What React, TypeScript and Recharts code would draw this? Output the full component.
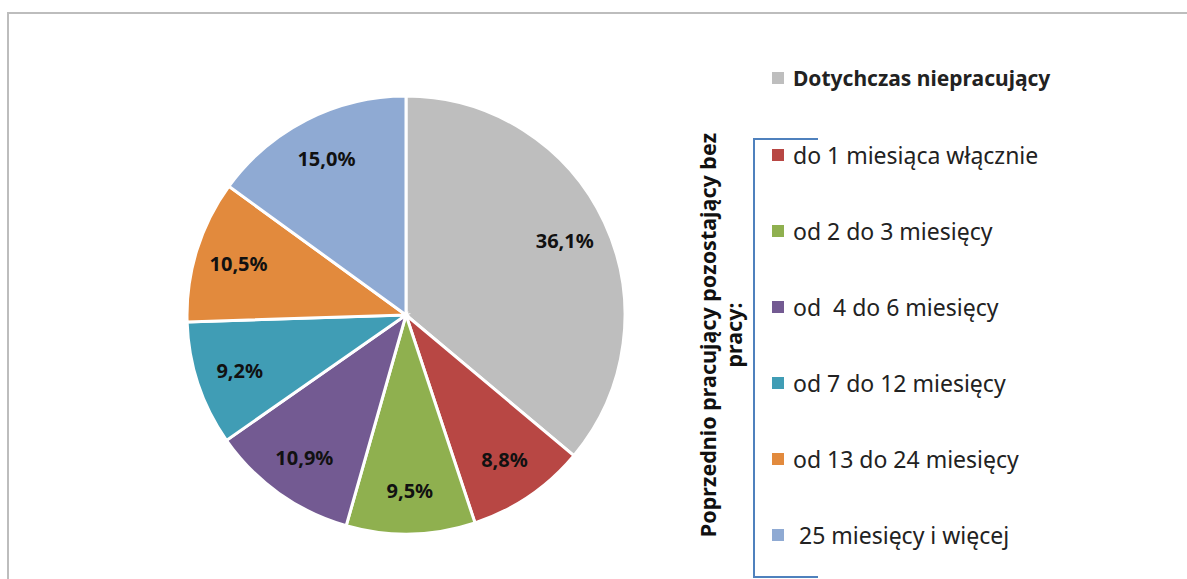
import React from 'react';
import { PieChart, Pie, Cell, Legend } from 'recharts';

const categories = [
  'Dotychczas niepracujący',
  'do 1 miesiąca włącznie',
  'od 2 do 3 miesięcy',
  'od  4 do 6 miesięcy',
  'od 7 do 12 miesięcy',
  'od 13 do 24 miesięcy',
  ' 25 miesięcy i więcej',
];
const shares = [36.1, 8.8, 9.5, 10.9, 9.2, 10.5, 15.0];
const colors = ['#BEBEBE', '#B84744', '#8FB04F', '#735A92', '#409DB5', '#E28A3D', '#8FAAD3'];

const groupTitle = ['Poprzednio pracujący pozostający bez', 'pracy:'];

const data = categories.map((name, i) => ({ name, value: shares[i] }));

const RAD = Math.PI / 180;
const FONT = '"Noto Sans", "Open Sans", sans-serif';

const renderLabel = (props: any) => {
  const { cx, cy, midAngle, outerRadius, value } = props;
  const r = outerRadius * 0.8;
  const x = cx + r * Math.cos(-midAngle * RAD);
  const y = cy + r * Math.sin(-midAngle * RAD);
  return (
    <text
      x={x}
      y={y}
      textAnchor="middle"
      dominantBaseline="central"
      fill="#111"
      fontFamily={FONT}
      fontWeight="bold"
      fontSize={20}
    >
      {value.toFixed(1).replace('.', ',') + '%'}
    </text>
  );
};

const renderLegend = (props: any) => {
  const payload = [...(props.payload || [])].sort(
    (a: any, b: any) => categories.indexOf(a.value) - categories.indexOf(b.value)
  );
  return (
    <div style={{ fontFamily: FONT, color: '#222' }}>
      {payload.map((entry: any, i: number) => (
        <div
          key={entry.value}
          style={{
            position: 'absolute',
            left: 0,
            top: i === 0 ? 0 : 77 + (i - 1) * 76,
            display: 'flex',
            alignItems: 'center',
            whiteSpace: 'pre',
            fontSize: i === 0 ? 21 : 23,
            lineHeight: '28px',
            fontWeight: i === 0 ? 'bold' : 'normal',
          }}
        >
          <span style={{ width: 12, height: 12, background: entry.color, marginRight: 9, display: 'inline-block' }} />
          {entry.value}
        </div>
      ))}
    </div>
  );
};

export default function App() {
  return (
    <div style={{ position: 'absolute', left: 0, top: 0, width: 1187, height: 579, background: '#fff', overflow: 'hidden' }}>
      <div
        style={{
          position: 'absolute',
          left: 7,
          top: 12,
          width: 1180,
          height: 567,
          borderTop: '2px solid #BDBDBD',
          borderLeft: '2px solid #BDBDBD',
        }}
      />
      <PieChart width={1187} height={579} style={{ position: 'absolute', left: 0, top: 0 }}>
        <Pie
          data={data}
          dataKey="value"
          nameKey="name"
          cx={401}
          cy={310}
          outerRadius={219}
          startAngle={90}
          endAngle={-270}
          stroke="#fff"
          strokeWidth={3}
          label={renderLabel}
          labelLine={false}
          isAnimationActive={false}
        >
          {data.map((d, i) => (
            <Cell key={d.name} fill={colors[i]} />
          ))}
        </Pie>
        <Legend
          content={renderLegend}
          wrapperStyle={{ position: 'absolute', left: 772, top: 64, width: 410, height: 500 }}
        />
      </PieChart>
      <svg width={1187} height={579} style={{ position: 'absolute', left: 0, top: 0, pointerEvents: 'none' }}>
        <polyline points="818,139 754,139 754,577 818,577" fill="none" stroke="#4F81BD" strokeWidth={2} />
        <g transform="translate(720,335) rotate(-90)" fontFamily={FONT} fontWeight="bold" fontSize={21.5} fill="#111">
          <text x={0} y={-4} textAnchor="middle">{groupTitle[0]}</text>
          <text x={0} y={22} textAnchor="middle">{groupTitle[1]}</text>
        </g>
      </svg>
    </div>
  );
}
